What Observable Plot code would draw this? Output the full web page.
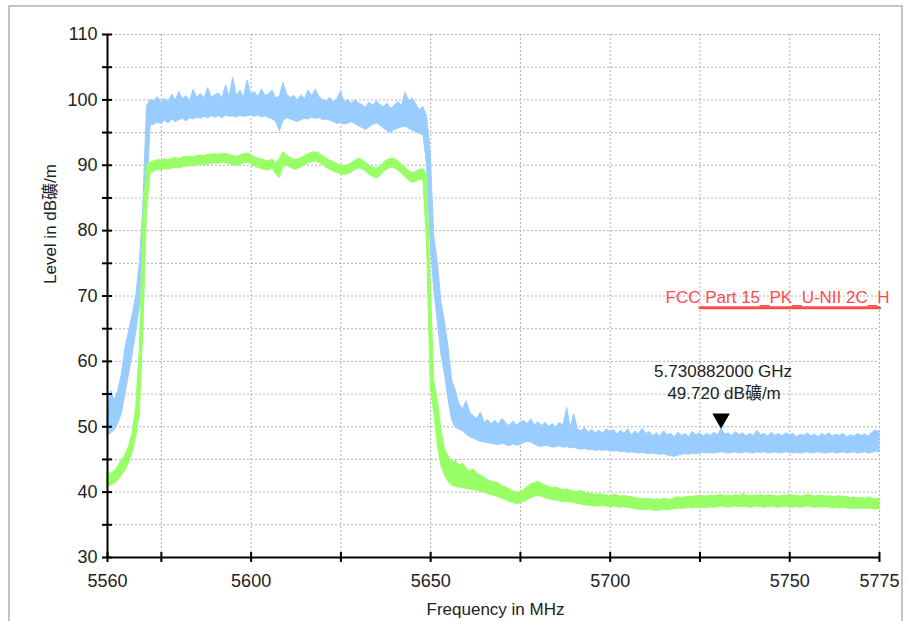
<!DOCTYPE html>
<html><head><meta charset="utf-8">
<script src="https://cdn.jsdelivr.net/npm/d3@7"></script>
<script src="https://cdn.jsdelivr.net/npm/@observablehq/plot@0.6"></script>
<style>
body{margin:0;background:#fff;}
#wrap{position:relative;width:907px;height:621px;overflow:hidden;}
#border{position:absolute;left:8px;top:5px;width:895px;height:640px;border:2px solid #c4c4c4;box-sizing:border-box;pointer-events:none;}
#chart{position:absolute;left:0;top:0;}
</style></head><body><div id="wrap"><div id="chart"></div><div id="border"></div></div>
<script>
const freqMHz = [
5560,5561,5562,5563,5564,5565,5566,5567,5568,5569,
5570,5571,5572,5573,5574,5575,5576,5577,5578,5579,
5580,5581,5582,5583,5584,5585,5586,5587,5588,5589,
5590,5591,5592,5593,5594,5595,5596,5597,5598,5599,
5600,5601,5602,5603,5604,5605,5606,5607,5608,5609,
5610,5611,5612,5613,5614,5615,5616,5617,5618,5619,
5620,5621,5622,5623,5624,5625,5626,5627,5628,5629,
5630,5631,5632,5633,5634,5635,5636,5637,5638,5639,
5640,5641,5642,5643,5644,5645,5646,5647,5648,5649,
5650,5651,5652,5653,5654,5655,5656,5657,5658,5659,
5660,5661,5662,5663,5664,5665,5666,5667,5668,5669,
5670,5671,5672,5673,5674,5675,5676,5677,5678,5679,
5680,5681,5682,5683,5684,5685,5686,5687,5688,5689,
5690,5691,5692,5693,5694,5695,5696,5697,5698,5699,
5700,5701,5702,5703,5704,5705,5706,5707,5708,5709,
5710,5711,5712,5713,5714,5715,5716,5717,5718,5719,
5720,5721,5722,5723,5724,5725,5726,5727,5728,5729,
5730,5731,5732,5733,5734,5735,5736,5737,5738,5739,
5740,5741,5742,5743,5744,5745,5746,5747,5748,5749,
5750,5751,5752,5753,5754,5755,5756,5757,5758,5759,
5760,5761,5762,5763,5764,5765,5766,5767,5768,5769,
5770,5771,5772,5773,5774,5775];

// Peak trace (blue): lower and upper edge of the noisy band, dBµV/m
const peakLo = [
48.5,49.0,49.5,50.5,52.0,55.0,58.0,61.0,64.5,68.5,
72.0,85.0,96.0,96.2,96.5,96.3,96.8,96.4,97.0,96.6,
96.9,97.1,96.7,97.2,97.0,97.3,97.1,97.4,97.2,97.5,
97.3,97.5,97.2,97.6,97.4,97.5,97.3,97.6,97.4,97.5,
97.6,97.4,97.6,97.3,97.5,97.2,97.0,96.6,95.2,96.8,
97.2,97.0,96.8,96.6,96.9,97.1,97.0,97.3,97.1,97.2,
96.9,97.0,96.8,96.6,96.3,96.5,96.2,96.4,96.6,96.3,
96.0,95.7,95.4,95.8,96.2,96.4,96.1,95.6,95.2,95.0,
95.4,95.6,95.8,95.9,95.6,95.3,95.0,94.8,94.6,90.0,
78.0,71.0,66.0,61.0,58.0,54.0,51.0,49.8,49.6,49.3,
48.8,48.4,48.2,47.9,47.7,47.6,47.5,47.4,47.3,47.2,
47.4,47.2,47.0,47.3,47.1,47.2,47.5,47.7,47.6,47.3,
47.0,46.9,47.1,47.0,46.8,46.9,47.0,46.8,46.9,46.7,
46.8,46.6,46.5,46.6,46.4,46.5,46.3,46.4,46.3,46.4,
46.3,46.2,46.3,46.1,46.2,46.0,46.1,46.0,45.9,46.0,
45.9,45.8,45.9,45.8,45.7,45.8,45.6,45.5,45.4,45.6,
45.7,45.8,45.7,45.9,45.8,45.9,46.0,45.9,46.0,45.9,
46.0,46.1,46.0,45.9,46.0,46.1,45.9,46.0,46.1,46.0,
45.9,46.1,46.0,46.1,45.9,46.0,46.1,45.9,46.0,46.1,
46.0,45.9,46.0,45.9,46.0,46.1,45.9,46.0,46.1,46.0,
45.9,46.0,46.1,45.9,46.0,46.1,45.9,46.0,46.1,45.9,
46.0,46.1,45.9,46.0,46.2,46.1];
const peakHi = [
52.0,55.5,54.0,55.5,58.0,62.0,64.5,67.0,70.0,75.0,
84.0,99.0,100.0,99.8,100.4,99.5,100.2,99.6,100.8,99.9,
101.2,100.1,100.6,99.8,101.5,100.3,100.9,100.2,101.8,100.4,
100.7,101.0,100.2,102.2,100.5,103.4,100.6,101.4,100.3,103.0,
100.8,101.2,100.4,101.6,100.6,100.9,101.4,100.2,100.5,102.6,
100.8,100.3,100.6,99.9,100.7,100.1,101.4,100.5,101.6,100.4,
100.0,99.8,100.3,99.6,100.1,101.2,99.6,100.0,99.4,99.9,
99.5,99.2,98.8,99.6,99.1,99.8,99.2,98.9,99.4,98.6,
99.1,99.7,99.0,101.1,99.8,100.2,99.3,98.4,98.9,97.5,
92.0,79.0,75.0,69.0,66.0,62.0,57.0,55.5,53.5,52.6,
53.9,52.1,51.6,51.2,52.2,50.6,51.0,50.4,50.9,50.3,
51.2,50.5,50.1,50.8,50.2,50.6,50.9,50.4,51.1,50.2,
50.7,50.1,50.6,50.0,50.4,49.9,50.6,50.2,52.9,49.8,
51.9,49.6,49.3,49.8,49.1,49.5,49.0,49.4,48.9,49.6,
49.2,49.5,48.8,49.4,48.9,49.6,48.7,49.3,48.8,49.7,
48.9,49.2,48.6,49.0,48.5,49.3,48.7,48.9,48.4,49.1,
48.6,48.9,48.4,49.2,48.7,49.0,48.5,48.9,48.6,49.1,
48.7,49.7,48.8,49.0,48.6,49.2,48.7,49.0,48.5,48.9,
48.6,49.4,48.7,48.9,48.5,49.1,48.6,48.9,48.5,49.0,
48.7,48.9,48.4,48.8,48.6,49.0,48.5,48.8,48.4,48.9,
48.6,49.0,48.5,48.8,48.6,48.9,48.4,48.7,48.5,48.9,
48.6,48.8,48.5,49.1,49.4,49.2];

// Average trace (green): lower and upper edge of the band, dBµV/m
const avgLo = [
40.8,41.0,41.3,41.8,42.5,43.3,44.5,46.0,48.5,52.0,
65.0,83.0,88.8,89.0,89.3,89.2,89.4,89.3,89.5,89.6,
89.5,89.7,89.8,89.9,89.8,90.0,90.1,90.0,90.1,90.2,
90.3,90.2,90.4,90.3,90.2,90.0,89.9,90.1,90.3,90.4,
90.2,89.8,89.6,89.4,89.3,89.2,89.5,88.6,88.0,89.8,
89.9,89.6,89.3,89.4,89.7,90.0,90.3,90.5,90.6,90.4,
90.0,89.6,89.3,89.0,88.8,88.6,88.5,88.6,88.9,89.3,
89.5,89.4,89.0,88.5,88.2,88.0,88.3,89.0,89.4,89.6,
89.5,89.2,88.7,88.2,87.6,87.3,87.5,87.8,87.6,78.0,
56.0,52.0,47.0,44.0,42.5,41.5,41.0,40.8,40.7,40.6,
40.5,40.4,40.3,40.2,40.0,39.9,39.7,39.5,39.4,39.2,
39.0,38.8,38.5,38.3,38.2,38.3,38.5,38.8,39.1,39.3,
39.4,39.3,39.1,38.9,38.8,38.7,38.6,38.5,38.5,38.4,
38.3,38.2,38.1,38.0,37.9,37.9,37.8,37.8,37.9,37.8,
37.7,37.8,37.7,37.6,37.7,37.6,37.5,37.4,37.3,37.3,
37.2,37.3,37.2,37.1,37.2,37.3,37.2,37.3,37.4,37.5,
37.4,37.5,37.6,37.5,37.6,37.5,37.6,37.5,37.7,37.6,
37.7,37.8,37.7,37.6,37.7,37.8,37.7,37.8,37.7,37.6,
37.7,37.8,37.7,37.6,37.7,37.8,37.7,37.6,37.7,37.8,
37.7,37.6,37.7,37.6,37.7,37.8,37.7,37.6,37.7,37.6,
37.7,37.6,37.5,37.6,37.5,37.6,37.5,37.4,37.5,37.4,
37.5,37.4,37.5,37.4,37.3,37.4];
const avgHi = [
43.0,42.8,43.2,44.0,44.8,45.6,47.0,49.0,53.0,62.0,
82.0,90.0,90.4,90.6,90.8,90.7,90.9,90.8,91.0,91.1,
90.9,91.2,91.3,91.3,91.2,91.4,91.5,91.4,91.6,91.6,
91.7,91.6,91.8,91.7,91.6,91.4,91.3,91.5,91.7,91.8,
91.6,91.2,91.0,90.9,90.7,90.6,90.9,90.2,91.0,92.0,
91.5,91.1,90.8,90.9,91.1,91.4,91.7,91.9,92.0,91.8,
91.4,91.0,90.7,90.5,90.2,90.0,89.9,90.0,90.3,90.7,
91.0,90.8,90.4,89.9,89.6,89.5,89.7,90.4,90.8,91.0,
90.9,90.6,90.1,89.6,89.1,88.8,89.0,89.3,89.4,88.5,
72.0,57.0,54.0,49.5,46.5,45.5,44.5,44.8,44.0,44.4,
43.6,43.2,43.5,42.8,42.5,42.2,41.8,41.6,41.5,41.3,
40.9,40.7,40.4,40.1,39.9,40.0,40.3,40.8,41.2,41.4,
41.6,41.3,41.0,40.8,40.6,40.7,40.5,40.3,40.4,40.2,
40.1,40.0,40.2,39.9,39.8,39.7,39.6,39.7,39.6,39.5,
39.4,39.6,39.5,39.3,39.4,39.3,39.2,39.1,39.0,38.9,
38.9,39.0,38.8,38.9,38.8,39.0,38.9,38.8,39.1,39.2,
39.1,39.2,39.3,39.2,39.4,39.3,39.4,39.3,39.5,39.4,
39.5,39.6,39.4,39.5,39.3,39.6,39.4,39.7,39.5,39.4,
39.5,39.4,39.6,39.4,39.5,39.5,39.4,39.3,39.5,39.4,
39.6,39.4,39.5,39.3,39.4,39.6,39.5,39.3,39.4,39.5,
39.3,39.4,39.2,39.3,39.4,39.2,39.3,39.1,39.2,39.0,
39.1,39.0,39.2,39.0,38.9,39.0];

// Limit line
const limitName = "FCC Part 15_PK_U-NII 2C_H";
const limitFreq = [5725, 5775];
const limitLevel = [68.2, 68.2];

// Marker
const markerFreq = [5730.882];
const markerLevel = [49.72];
const markerLabels = ["5.730882000 GHz", "49.720 dB礦/m"];

// Axes
const xDomain = [5560, 5775];
const yDomain = [30, 110];
const xTicks = [5560, 5575, 5600, 5625, 5650, 5675, 5700, 5725, 5750, 5775];
const xTickLabels = [5560, 5600, 5650, 5700, 5750, 5775];
const yTicks = [30, 35, 40, 45, 50, 55, 60, 65, 70, 75, 80, 85, 90, 95, 100, 105, 110];
const yTickLabels = [30, 40, 50, 60, 70, 80, 90, 100, 110];
const xTitle = "Frequency in MHz";
const yTitle = "Level in dB礦/m";

const blue = "#99ccff", green = "#99ff66", red = "#ff4a4a";

const rows = freqMHz.map((f, i) => ({f, pLo: peakLo[i], pHi: peakHi[i], aLo: avgLo[i], aHi: avgHi[i]}));
const limitRows = limitFreq.map((f, i) => ({f, v: limitLevel[i]}));
const marker = markerFreq.map((f, i) => ({f, v: markerLevel[i]}));

const chart = Plot.plot({
  width: 907, height: 621,
  marginLeft: 107, marginRight: 28, marginTop: 34, marginBottom: 64,
  style: {fontFamily: "'Liberation Sans','Noto Sans CJK SC',sans-serif", fontSize: "17px", color: "#222", background: "transparent", overflow: "visible"},
  x: {domain: xDomain, label: null},
  y: {domain: yDomain, label: null},
  marks: [
    Plot.gridY(yTicks, {stroke: "#b0b0b0", strokeOpacity: 1, strokeDasharray: "2,2"}),
    Plot.gridX(xTicks, {stroke: "#b0b0b0", strokeOpacity: 1, strokeDasharray: "2,2"}),
    Plot.areaY(rows, {x: "f", y1: "pLo", y2: "pHi", fill: blue, stroke: blue, strokeWidth: 1}),
    Plot.areaY(rows, {x: "f", y1: "aLo", y2: "aHi", fill: green, stroke: green, strokeWidth: 1}),
    Plot.line(limitRows, {x: "f", y: "v", stroke: red, strokeWidth: 3}),
    Plot.text([limitName], {x: limitFreq[1], y: limitLevel[1], text: d => d, textAnchor: "end", dx: 10, dy: -10, fill: red, fontSize: 17}),
    Plot.dot(marker, {x: "f", y: "v", symbol: "triangle", r: 6.5, rotate: 180, fill: "#000", stroke: "none", dy: -10}),
    Plot.text(marker, {x: "f", y: "v", text: () => markerLabels[0], dx: 2, dy: -57, fontSize: 17, fill: "#222"}),
    Plot.text(marker, {x: "f", y: "v", text: () => markerLabels[1], dx: 3, dy: -35, fontSize: 17, fill: "#222"}),
    Plot.ruleX([xDomain[0]], {stroke: "#000", strokeWidth: 2}),
    Plot.ruleY([yDomain[0]], {stroke: "#000", strokeWidth: 2}),
    Plot.axisY(yTicks, {tickSize: 10, dx: 5, fill: "none", stroke: "#000", strokeWidth: 2, label: null}),
    Plot.axisY(yTickLabels, {tickSize: 0, tickPadding: 10, fontSize: 18, fill: "#222", tickFormat: d => String(d), label: null}),
    Plot.axisX(xTicks, {tickSize: 10, dy: -5, fill: "none", stroke: "#000", strokeWidth: 2, label: null}),
    Plot.axisX(xTickLabels, {tickSize: 0, tickPadding: 17, fontSize: 18, fill: "#222", tickFormat: d => String(d), label: null}),
    Plot.text([yTitle], {frameAnchor: "left", rotate: -90, dx: -57, dy: -12, fontSize: 17, fill: "#222"}),
    Plot.text([xTitle], {frameAnchor: "bottom", dx: 2, dy: 57, fontSize: 17, fill: "#222"})
  ]
});
document.getElementById("chart").appendChild(chart);
</script>
</body></html>
